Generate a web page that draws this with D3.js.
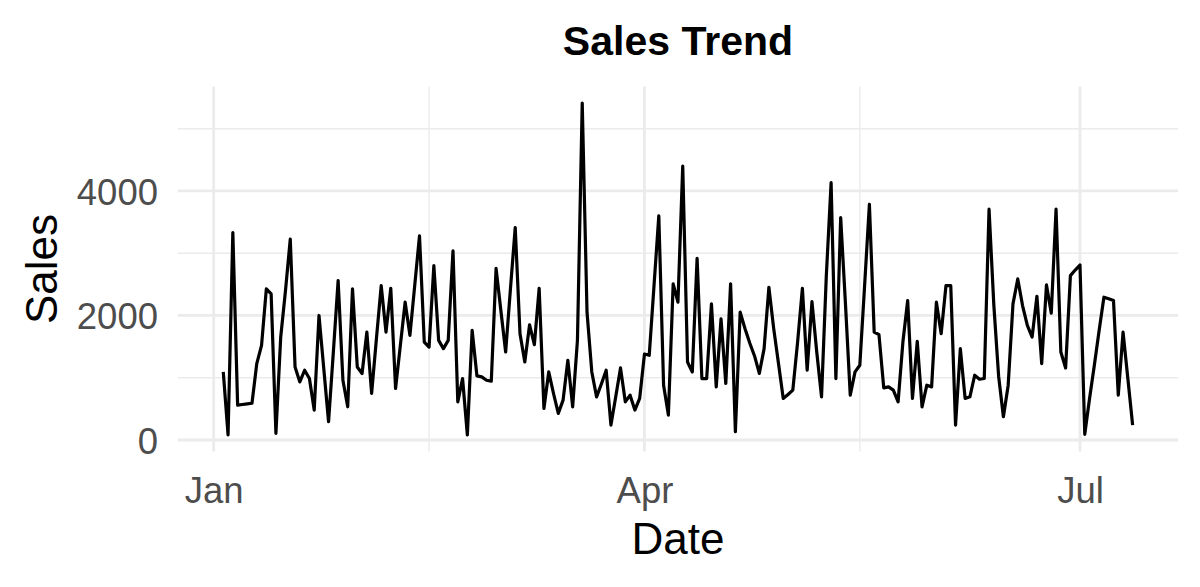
<!DOCTYPE html>
<html>
<head>
<meta charset="utf-8">
<script src="https://cdn.jsdelivr.net/npm/d3@7"></script>
<style>
  html, body { margin: 0; padding: 0; background: #ffffff; }
  svg { display: block; }
</style>
</head>
<body>
<svg id="chart" width="1200" height="587"></svg>
<script>
// ---- data ----
const startDate = "2023-01-03";
const sales = [
  1093, 80, 3333, 560, 570, 580, 590, 1227, 1520, 2427,
  2347, 107, 1650, 2400, 3227, 1173, 933, 1120, 987, 480,
  2000, 1147, 293, 1413, 2560, 960, 533, 2427, 1173, 1067,
  1733, 747, 1627, 2480, 1733, 2437, 827, 1520, 2213, 1680,
  2480, 3280, 1573, 1493, 2800, 1600, 1467, 1600, 3040, 613,
  987, 80, 1760, 1030, 1013, 960, 944, 2757, 2080, 1413,
  2427, 3413, 1707, 1253, 1850, 1530, 2437, 507, 1093, 747,
  427, 640, 1280, 533, 1600, 5413, 2053, 1093, 693, 900,
  1120, 240, 693, 1157, 613, 720, 480, 667, 1380, 1360,
  2480, 3600, 880, 400, 2507, 2213, 4400, 1253, 1093, 2917,
  987, 987, 2187, 853, 1947, 907, 2507, 133, 2053, 1790,
  1557, 1350, 1070, 1467, 2453, 1792, 1232, 667, 731, 800,
  1573, 2437, 1120, 2224, 1413, 693, 2640, 4133, 987, 3573,
  2187, 720, 1093, 1200, 2480, 3787, 1733, 1691, 837, 853,
  800, 613, 1573, 2240, 667, 1584, 533, 880, 853, 2213,
  1707, 2480, 2480, 240, 1467, 667, 693, 1040, 976, 987,
  3707, 2165, 1024, 373, 880, 2187, 2587, 2160, 1840, 1653,
  2309, 1227, 2491, 2037, 3707, 1413, 1157, 2640, 2730, 2811,
  91, 667, 1200, 1760, 2293, 2267, 2240, 720, 1733, 987,
  240
];
const xMajorTicks = ["2023-01-01", "2023-04-01", "2023-07-01"];
const xMinorTicks = ["2023-02-15", "2023-05-16"];
const xTickLabels = ["Jan", "Apr", "Jul"];
const yMajorTicks = [0, 2000, 4000];
const yMinorTicks = [1000, 3000, 5000];
const titleText = "Sales Trend";
const xTitle = "Date";
const yTitle = "Sales";

// ---- build table ----
const parse = d3.utcParse("%Y-%m-%d");
const t0 = parse(startDate);
const data = sales.map((v, i) => ({ date: d3.utcDay.offset(t0, i), value: v }));

const svg = d3.select("#chart");
const font = "'Liberation Sans', Arial, Helvetica, sans-serif";

// panel extent (ggplot-like 5% expansion)
const panel = { left: 177.8, right: 1178.1, top: 86.4, bottom: 451.6 };
const xExt = d3.extent(data, d => d.date);
const spanMs = xExt[1] - xExt[0];
const x = d3.scaleUtc()
  .domain([new Date(+xExt[0] - spanMs * 0.05), new Date(+xExt[1] + spanMs * 0.05)])
  .range([panel.left, panel.right]);
const yExt = d3.extent(sales);
const ySpan = yExt[1] - yExt[0];
const y = d3.scaleLinear()
  .domain([yExt[0] - ySpan * 0.05, yExt[1] + ySpan * 0.05])
  .range([panel.bottom, panel.top]);

const grid = svg.append("g");
// minor gridlines
grid.selectAll("line.ymin").data(yMinorTicks).join("line")
  .attr("x1", panel.left).attr("x2", panel.right)
  .attr("y1", d => y(d)).attr("y2", d => y(d))
  .attr("stroke", "#ebebeb").attr("stroke-width", 1.4);
grid.selectAll("line.xmin").data(xMinorTicks).join("line")
  .attr("x1", d => x(parse(d))).attr("x2", d => x(parse(d)))
  .attr("y1", panel.top).attr("y2", panel.bottom)
  .attr("stroke", "#ebebeb").attr("stroke-width", 1.4);
// major gridlines
grid.selectAll("line.ymaj").data(yMajorTicks).join("line")
  .attr("x1", panel.left).attr("x2", panel.right)
  .attr("y1", d => y(d)).attr("y2", d => y(d))
  .attr("stroke", "#ebebeb").attr("stroke-width", 2.8);
grid.selectAll("line.xmaj").data(xMajorTicks).join("line")
  .attr("x1", d => x(parse(d))).attr("x2", d => x(parse(d)))
  .attr("y1", panel.top).attr("y2", panel.bottom)
  .attr("stroke", "#ebebeb").attr("stroke-width", 2.8);

// line
const line = d3.line().x(d => x(d.date)).y(d => y(d.value));
svg.append("path").datum(data)
  .attr("d", line)
  .attr("fill", "none")
  .attr("stroke", "#000000")
  .attr("stroke-width", 3.2)
  .attr("stroke-linejoin", "round");

// y axis labels
const yAxis = d3.axisLeft(y).tickValues(yMajorTicks).tickSize(0).tickPadding(0).tickFormat(d3.format("d"));
const yG = svg.append("g").attr("transform", `translate(158,0)`).call(yAxis);
yG.select(".domain").remove();
yG.selectAll("text").attr("x", 0).attr("fill", "#4d4d4d").style("font-family", font).style("font-size", "36.5px").attr("dy", "0.36em");

// x axis labels
const xAxis = d3.axisBottom(x).tickValues(xMajorTicks.map(parse)).tickSize(0).tickPadding(0)
  .tickFormat((d, i) => xTickLabels[i]);
const xG = svg.append("g").attr("transform", `translate(0,503)`).call(xAxis);
xG.select(".domain").remove();
xG.selectAll("text").attr("y", 0).attr("dy", 0).attr("fill", "#4d4d4d").style("font-family", font).style("font-size", "36.5px");

// titles
svg.append("text").attr("x", (panel.left + panel.right) / 2).attr("y", 55)
  .attr("text-anchor", "middle").style("font-family", font).style("font-size", "41px")
  .style("font-weight", "bold").attr("fill", "#000").text(titleText);
svg.append("text").attr("x", (panel.left + panel.right) / 2).attr("y", 554)
  .attr("text-anchor", "middle").style("font-family", font).style("font-size", "44px")
  .attr("fill", "#000").text(xTitle);
svg.append("text").attr("transform", `translate(57,${(panel.top + panel.bottom) / 2}) rotate(-90)`)
  .attr("text-anchor", "middle").style("font-family", font).style("font-size", "44px")
  .attr("fill", "#000").text(yTitle);
</script>
</body>
</html>
